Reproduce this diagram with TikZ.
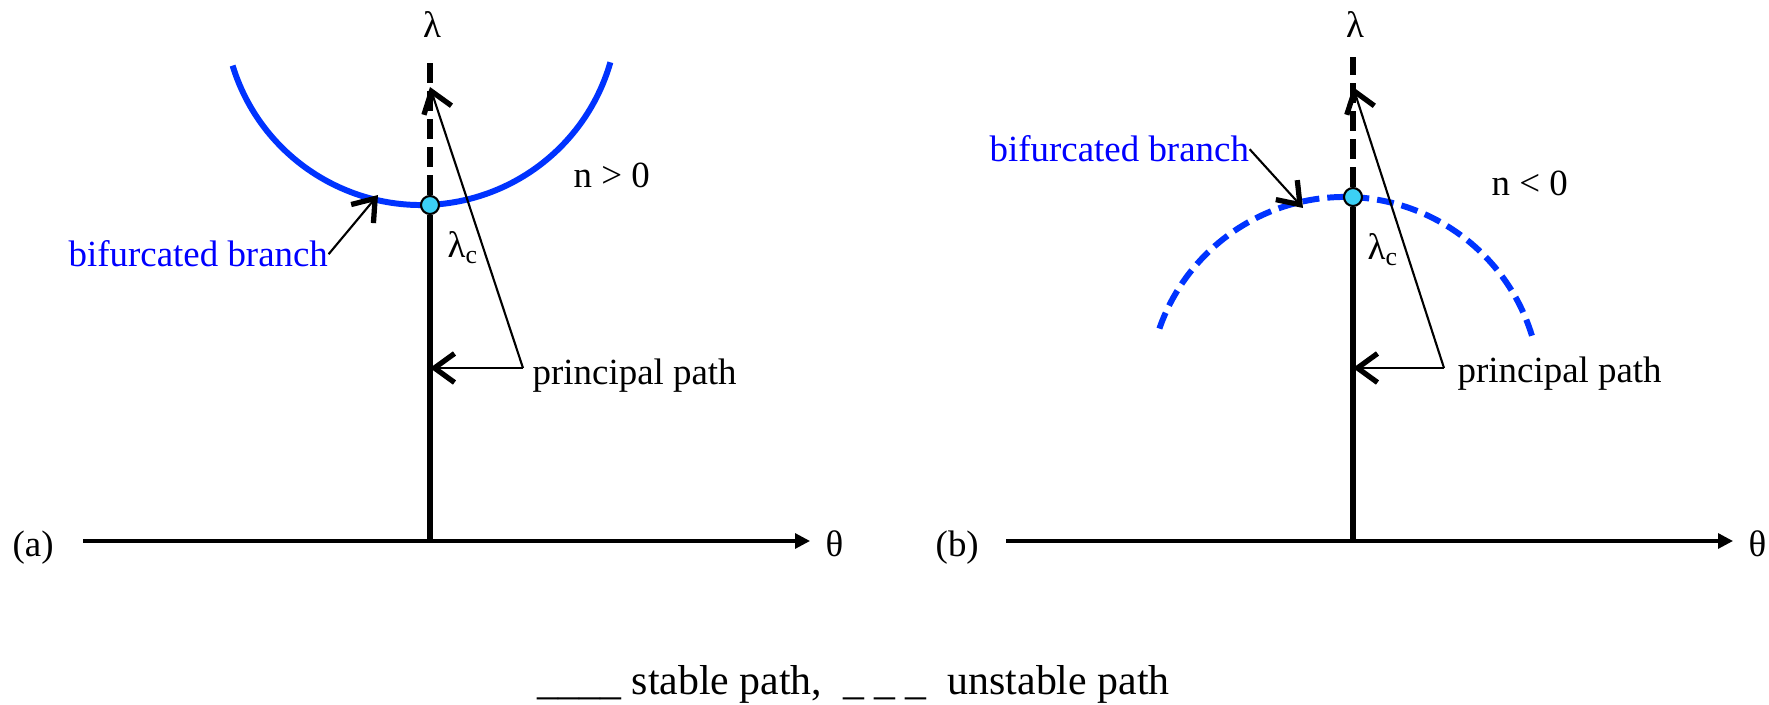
\documentclass[tikz,border=0pt]{standalone}
\usepackage{fontspec}
\setmainfont{Liberation Serif}
\usetikzlibrary{arrows.meta}
\definecolor{brblue}{RGB}{0,51,255}
\definecolor{txblue}{RGB}{0,0,255}
\definecolor{ptcyan}{RGB}{60,208,245}

\begin{document}
\begin{tikzpicture}[
  axis/.style={line width=0.9pt, -{Triangle[length=1.5mm,width=1.5mm]}},
  stablepath/.style={line width=1.9pt},
  unstpath/.style={line width=1.9pt, dash pattern=on 0.2cm off 0.08cm},
  branch/.style={draw=brblue, line width=1.7pt},
  lead/.style={line width=0.6pt, -{Straight Barb[length=2mm,width=2.9mm,line width=1.5pt]}},
  lbl/.style={inner sep=0pt, font=\fontsize{10.5}{12.6}\selectfont},
  crit/.style={circle, draw, line width=0.6pt, fill=ptcyan, minimum size=0.18cm, inner sep=0pt}]

\useasboundingbox (0,0) rectangle (17.69,7.04);

% (a) n > 0
\coordinate (sa) at (0.83,1.63);
\coordinate (ea) at (8.10,1.63);
\coordinate (oa) at (4.30,1.63);
\coordinate (topa) at (4.30,6.47);
\coordinate (tba) at (3.78,5.09);
\coordinate (ca) at (5.23,3.36);
\coordinate (tpa1) at (4.30,3.36);
\coordinate (tpa2) at (4.30,6.17);
\draw[branch] (4.21,6.96) ++(197:1.97) arc[start angle=197, end angle=344, radius=1.97];
\node[crit] (lca) at (4.30,4.99) {};
\draw[axis] (sa) -- (ea);
\draw[stablepath] (oa) -- (lca);
\draw[unstpath] (lca) -- (topa);
\node[lbl, anchor=base] (lama) at (4.32,6.66) {λ};
\node[lbl, anchor=base west] (tha) at (8.25,1.47) {θ};
\node[lbl, anchor=base west] (laba) at (0.12,1.47) {(a)};
\node[lbl, anchor=base west, text=txblue] (bba) at (0.68,4.37) {bifurcated branch};
\node[lbl, anchor=base west] (na) at (5.73,5.16) {n > 0};
\node[lbl, anchor=base west] (lcta) at (4.47,4.46) {λ\textsubscript{c}};
\node[lbl, anchor=base west] (ppa) at (5.32,3.19) {principal path};
\draw[lead] (bba.east) -- (tba);
\draw[lead] (ca) -- (tpa1);
\draw[lead] (ca) -- (tpa2);

% (b) n < 0
\coordinate (sb) at (10.06,1.63);
\coordinate (eb) at (17.33,1.63);
\coordinate (ob) at (13.53,1.63);
\coordinate (topb) at (13.53,6.47);
\coordinate (tbb) at (13.03,4.96);
\coordinate (cb) at (14.44,3.36);
\coordinate (tpb1) at (13.53,3.36);
\coordinate (tpb2) at (13.53,6.17);
\draw[branch, dash pattern=on 0.17cm off 0.08cm] (13.445,3.11) ++(17:1.96) arc[start angle=17, end angle=163, radius=1.96];
\node[crit] (lcb) at (13.53,5.07) {};
\draw[axis] (sb) -- (eb);
\draw[stablepath] (ob) -- (lcb);
\draw[unstpath] (lcb) -- (topb);
\node[lbl, anchor=base] (lamb) at (13.55,6.66) {λ};
\node[lbl, anchor=base west] (thb) at (17.48,1.47) {θ};
\node[lbl, anchor=base west] (labb) at (9.35,1.47) {(b)};
\node[lbl, anchor=base west, text=txblue] (bbb) at (9.89,5.42) {bifurcated branch};
\node[lbl, anchor=base west] (nb) at (14.91,5.08) {n < 0};
\node[lbl, anchor=base west] (lctb) at (13.67,4.44) {λ\textsubscript{c}};
\node[lbl, anchor=base west] (ppb) at (14.57,3.21) {principal path};
\draw[lead] (bbb.east) -- (tbb);
\draw[lead] (cb) -- (tpb1);
\draw[lead] (cb) -- (tpb2);

% key
\node[anchor=base west, inner sep=0pt, font=\fontsize{11.9}{14}\selectfont] (key) at (5.37,0.10)
  {\_\_\_\_ stable path,\ \ \_ \_ \_\ \ unstable path};
\end{tikzpicture}
\end{document}
